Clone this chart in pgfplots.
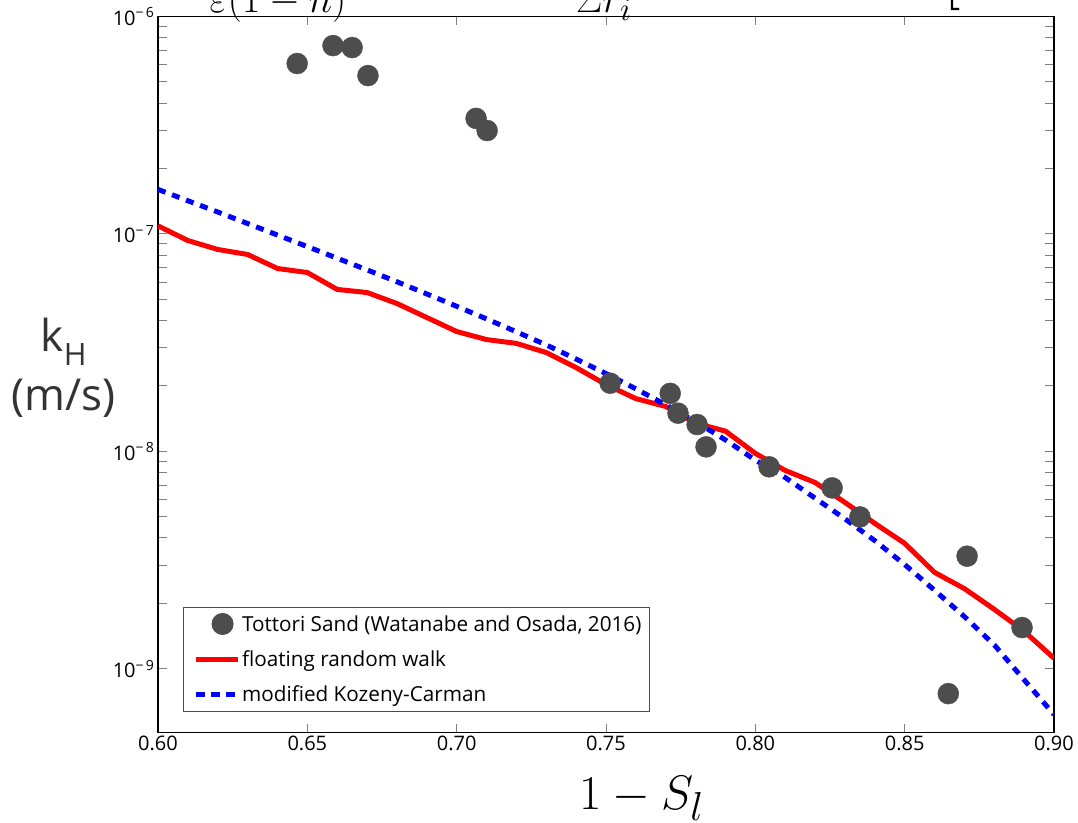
\documentclass[border=0pt]{standalone}
\usepackage{pgfplots}
\pgfplotsset{compat=1.18}
\usepackage{fontspec}
\setmainfont{Open Sans}
\definecolor{markgray}{HTML}{4D4D4D}
\definecolor{labgray}{HTML}{333333}

\pgfplotsset{
  lineleg/.style={legend image code/.code={\node[draw=none, fill=none, inner sep=0pt, outer sep=0pt, minimum size=0pt] at (0pt,0pt) {}; \draw[##1] (6pt,0pt) -- (48pt,0pt);}},
  markleg/.style={legend image code/.code={\node[draw=none, fill=none, inner sep=0pt, outer sep=0pt, minimum size=0pt] at (0pt,0pt) {}; \node[draw=none, fill=none, inner sep=0pt, outer sep=0pt, minimum size=0pt] at (48pt,0pt) {}; \draw[##1] plot coordinates {(33pt,0pt)};}},
}

\pgfplotstableread{
x y
0.6466 6.08e-7
0.6586 7.35e-7
0.6650 7.20e-7
0.6703 5.35e-7
0.7065 3.40e-7
0.7102 2.99e-7
0.7514 2.06e-8
0.7715 1.85e-8
0.7741 1.50e-8
0.7805 1.33e-8
0.7835 1.05e-8
0.8046 8.5e-9
0.8257 6.8e-9
0.8350 5.0e-9
0.8709 3.3e-9
0.8893 1.55e-9
0.8646 7.7e-10
}\tottori

\pgfplotstableread{
x y
0.60 1.09e-7
0.61 9.33e-8
0.62 8.49e-8
0.63 8.05e-8
0.64 6.94e-8
0.65 6.65e-8
0.66 5.56e-8
0.67 5.38e-8
0.68 4.79e-8
0.69 4.13e-8
0.70 3.56e-8
0.71 3.27e-8
0.72 3.14e-8
0.73 2.85e-8
0.74 2.43e-8
0.75 2.03e-8
0.76 1.75e-8
0.77 1.61e-8
0.78 1.35e-8
0.79 1.24e-8
0.80 9.8e-9
0.81 8.18e-9
0.82 7.2e-9
0.83 5.83e-9
0.84 4.67e-9
0.85 3.78e-9
0.86 2.78e-9
0.87 2.34e-9
0.88 1.88e-9
0.89 1.49e-9
0.90 1.12e-9
}\frw

\pgfplotstableread{
x y
0.60 1.603e-7
0.61 1.422e-7
0.62 1.262e-7
0.63 1.117e-7
0.64 9.89e-8
0.65 8.75e-8
0.66 7.74e-8
0.67 6.84e-8
0.68 6.03e-8
0.69 5.30e-8
0.70 4.65e-8
0.71 4.07e-8
0.72 3.55e-8
0.73 3.09e-8
0.74 2.66e-8
0.75 2.28e-8
0.76 1.94e-8
0.77 1.64e-8
0.78 1.37e-8
0.79 1.13e-8
0.80 9.12e-9
0.81 7.59e-9
0.82 6.10e-9
0.83 4.90e-9
0.84 3.89e-9
0.85 3.02e-9
0.86 2.30e-9
0.87 1.74e-9
0.88 1.29e-9
0.89 8.91e-10
0.90 6.17e-10
}\kc

\begin{document}
\begin{tikzpicture}
\begin{axis}[
  at={(0pt,0pt)}, anchor=south west,
  scale only axis, width=896pt, height=716pt,
  xmin=0.6, xmax=0.9,
  ymode=log, ymin=5.1e-10, ymax=1e-6,
  xtick={0.60,0.65,0.70,0.75,0.80,0.85,0.90},
  xticklabels={0.60,0.65,0.70,0.75,0.80,0.85,0.90},
  ytick={1e-9,1e-8,1e-7,1e-6},
  yticklabels={10\textsuperscript{−\,9},10\textsuperscript{−\,8},10\textsuperscript{−\,7},10\textsuperscript{−\,6}},
  tick label style={font=\fontsize{20}{24}\selectfont, black},
  tick style={gray, line width=1pt},
  major tick length=9pt, minor tick length=9pt,
  axis line style={black, line width=1.5pt},
  xlabel={\scalebox{1.95}{$1-S_l$}},
  xlabel style={font=\Huge, at={(axis description cs:0.540,-0.107)}, anchor=base},
  ylabel={k\textsubscript{H}\\(m/s)},
  ylabel style={rotate=-90, font=\fontsize{44}{59}\selectfont, text=labgray, align=center, at={(axis description cs:-0.105,0.509)}, anchor=center},
  legend style={at={(axis description cs:0.028,0.029)}, anchor=south west, draw=black!70, line width=1pt,
    font=\fontsize{20.7}{25}\selectfont, cells={anchor=west}, row sep=14pt, inner xsep=6pt, inner ysep=6pt},
]
\addlegendimage{markleg, only marks, mark=*, mark size=10.5pt, color=markgray, mark options={fill=markgray, draw=markgray}}
\addlegendentry{Tottori Sand (Watanabe and Osada, 2016)}
\addlegendimage{lineleg, red, line width=5pt}
\addlegendentry{floating random walk}
\addlegendimage{lineleg, blue, line width=5pt, dash pattern=on 9pt off 6pt}
\addlegendentry{modified Kozeny-Carman}

\addplot[red, line width=5pt, line join=round, forget plot] table[x=x, y=y] {\frw};
\addplot[blue, line width=5pt, dash pattern=on 8pt off 7pt, forget plot] table[x=x, y=y] {\kc};
\addplot[only marks, mark=*, mark size=10.5pt, color=markgray, mark options={fill=markgray, draw=markgray}, forget plot] table[x=x, y=y] {\tottori};
\end{axis}
\node[anchor=base, font=\Huge] at (120pt,719.5pt) {\scalebox{1.6}{$\varepsilon(1-n)$}};
\node[anchor=base, font=\Huge] at (446pt,720pt) {\scalebox{1.6}{$\Sigma r_i$}};
\node[anchor=base, font=\Huge] at (795pt,737.5pt) {\scalebox{2.6}{$\mathbf{[}$}};
\pgfresetboundingbox
\useasboundingbox (-158pt,-89.5pt) rectangle (920pt,732.5pt);
\end{tikzpicture}
\end{document}
